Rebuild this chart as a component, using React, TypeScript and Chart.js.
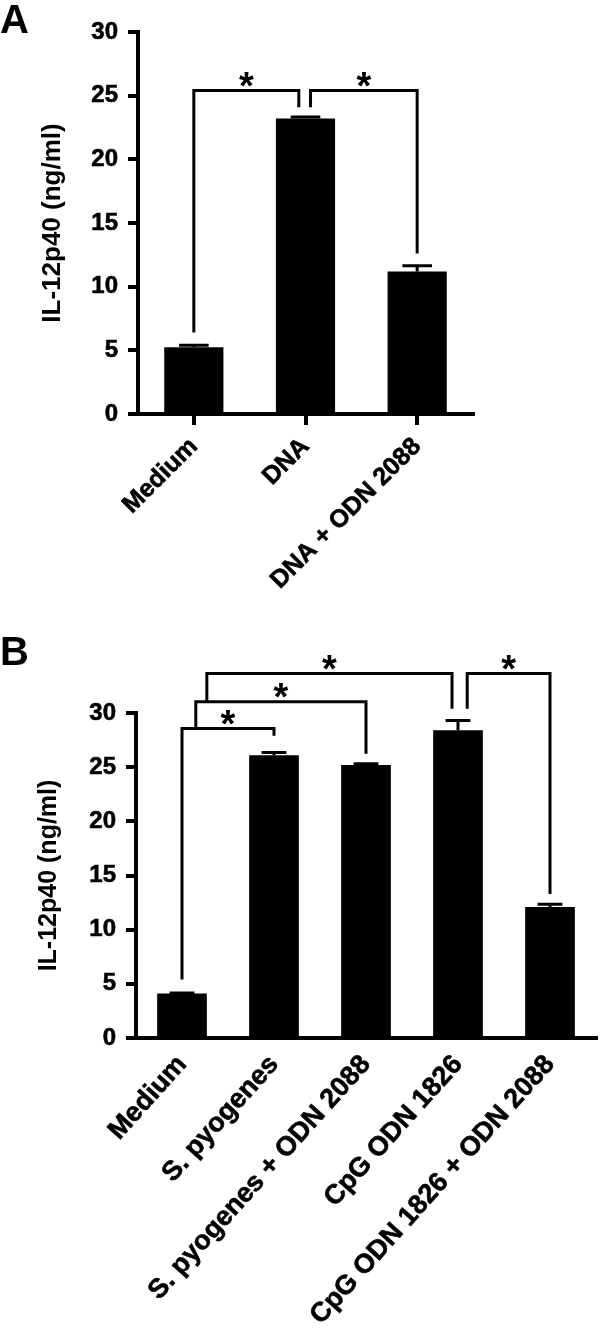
import React, { useEffect, useRef } from 'react';
import { Chart, registerables } from 'chart.js';

Chart.register(...registerables);

const FONT = '"Liberation Sans", Arial, Helvetica, sans-serif';

// ---------- data ----------
const yTickValues = [0, 5, 10, 15, 20, 25, 30];
const yAxisTitle = 'IL-12p40 (ng/ml)';

const categoriesA = ['Medium', 'DNA', 'DNA + ODN 2088'];
const meansA = [5.25, 23.2, 11.2];
const semA = [0.15, 0.12, 0.45];
// [fromCategory, toCategory, bracketLevel, fromLegEnd, toLegEnd]
const bracketsA = [
  [0, 0.94, 25.4, 6.4, 24.1],
  [1.045, 2, 25.4, 24.1, 12.6],
];

const categoriesB = [
  'Medium',
  'S. pyogenes',
  'S. pyogenes + ODN 2088',
  'CpG ODN 1826',
  'CpG ODN 1826 + ODN 2088',
];
const meansB = [4.1, 26.1, 25.2, 28.4, 12.1];
const semB = [0.05, 0.25, 0.12, 0.9, 0.25];
const bracketsB = [
  [0, 1, 28.56, 5.4, 27.9],
  [0.15, 2, 31.05, 28.56, 26.25],
  [0.27, 2.935, 33.64, 31.05, 30.4],
  [3.1, 4, 33.64, 30.4, 13.3],
];

type PanelProps = {
  labels: string[];
  values: number[];
  errors: number[];
  brackets: number[][];
  width: number;
  height: number;
  top: number;
  padTop: number;
  padRight: number;
  yAxisWidth: number;
  xAxisHeight: number;
  barPct: number;
  xTicks: boolean;
  xLabelPad: number;
  xLabelSize: number;
  xRotation: number;
  titleSize: number;
  titlePad: number;
};

function overlayPlugin(values: number[], errors: number[], brackets: number[][]) {
  return {
    id: 'overlay',
    afterDatasetsDraw(chart: any) {
      const ctx = chart.ctx as CanvasRenderingContext2D;
      const xs = chart.scales.x;
      const ys = chart.scales.y;
      const meta = chart.getDatasetMeta(0);
      ctx.save();
      ctx.strokeStyle = '#000';
      ctx.fillStyle = '#000';
      ctx.lineWidth = 3;
      ctx.lineCap = 'butt';
      ctx.lineJoin = 'miter';
      meta.data.forEach((bar: any, i: number) => {
        const yTop = ys.getPixelForValue(values[i]);
        const yErr = ys.getPixelForValue(values[i] + errors[i]);
        const half = bar.width / 4;
        ctx.beginPath();
        ctx.moveTo(bar.x, yTop);
        ctx.lineTo(bar.x, yErr);
        ctx.moveTo(bar.x - half, yErr);
        ctx.lineTo(bar.x + half, yErr);
        ctx.stroke();
      });
      brackets.forEach(([a, b, level, endA, endB]) => {
        const x1 = xs.getPixelForValue(a);
        const x2 = xs.getPixelForValue(b);
        const yl = ys.getPixelForValue(level);
        ctx.beginPath();
        ctx.moveTo(x1, ys.getPixelForValue(endA));
        ctx.lineTo(x1, yl);
        ctx.lineTo(x2, yl);
        ctx.lineTo(x2, ys.getPixelForValue(endB));
        ctx.stroke();
        ctx.font = `bold 38px ${FONT}`;
        ctx.textAlign = 'center';
        ctx.textBaseline = 'alphabetic';
        const m = ctx.measureText('*');
        const cy = yl - 11;
        const base = cy + (m.actualBoundingBoxAscent - m.actualBoundingBoxDescent) / 2;
        ctx.fillText('*', (x1 + x2) / 2, base);
      });
      ctx.restore();
    },
  };
}

function BarPanel(p: PanelProps) {
  const ref = useRef<HTMLCanvasElement>(null);
  useEffect(() => {
    if (!ref.current) return;
    const chart = new Chart(ref.current, {
      type: 'bar',
      data: {
        labels: p.labels,
        datasets: [
          {
            data: p.values,
            backgroundColor: '#000',
            borderWidth: 0,
            barPercentage: p.barPct,
            categoryPercentage: 1,
          },
        ],
      },
      options: {
        animation: false,
        responsive: false,
        maintainAspectRatio: false,
        layout: { padding: { left: 0, right: p.padRight, top: p.padTop, bottom: 0 } },
        plugins: {
          legend: { display: false },
          tooltip: { enabled: false },
          title: { display: false },
        },
        scales: {
          x: {
            type: 'category',
            offset: true,
            grid: {
              display: p.xTicks,
              offset: false,
              drawOnChartArea: false,
              drawTicks: p.xTicks,
              tickLength: 11,
              tickWidth: 4,
              tickColor: '#000',
              color: '#000',
              lineWidth: 4,
            },
            border: { display: true, color: '#000', width: 4 },
            ticks: {
              color: '#000',
              font: { family: FONT, size: p.xLabelSize, weight: 'bold' },
              textStrokeColor: '#000',
              textStrokeWidth: 0.6,
              maxRotation: p.xRotation,
              minRotation: p.xRotation,
              autoSkip: false,
              padding: p.xLabelPad,
            },
            afterFit: (s: any) => {
              s.height = p.xAxisHeight;
            },
          },
          y: {
            min: 0,
            max: 30,
            grid: {
              drawOnChartArea: false,
              drawTicks: true,
              tickLength: 10,
              tickWidth: 4,
              tickColor: '#000',
              color: '#000',
              lineWidth: 4,
            },
            border: { display: true, color: '#000', width: 4 },
            ticks: {
              color: '#000',
              font: { family: FONT, size: 24, weight: 'bold' },
              textStrokeColor: '#000',
              textStrokeWidth: 0.6,
              padding: 10,
            },
            afterBuildTicks: (s: any) => {
              s.ticks = yTickValues.map((v) => ({ value: v }));
            },
            title: {
              display: true,
              text: yAxisTitle,
              color: '#000',
              font: { family: FONT, size: p.titleSize, weight: 'bold', lineHeight: 1.2 },
              padding: { top: p.titlePad, bottom: 0 },
            },
            afterFit: (s: any) => {
              s.width = p.yAxisWidth;
            },
          },
        },
      },
      plugins: [overlayPlugin(p.values, p.errors, p.brackets)],
    } as any);
    return () => chart.destroy();
  }, []);
  return (
    <canvas
      ref={ref}
      width={p.width}
      height={p.height}
      style={{ position: 'absolute', left: 0, top: p.top, width: p.width, height: p.height }}
    />
  );
}

const letterStyle: React.CSSProperties = {
  position: 'absolute',
  left: 0,
  fontFamily: FONT,
  fontWeight: 'bold',
  fontSize: 40,
  lineHeight: 1,
  color: '#000',
};

export default function App() {
  return (
    <div
      style={{
        position: 'absolute',
        left: 0,
        top: 0,
        width: 600,
        height: 1332,
        background: '#fff',
        overflow: 'hidden',
      }}
    >
      <BarPanel
        labels={categoriesA}
        values={meansA}
        errors={semA}
        brackets={bracketsA}
        width={600}
        height={615}
        top={0}
        padTop={32}
        padRight={127}
        yAxisWidth={138}
        xAxisHeight={201}
        barPct={0.53}
        xTicks={true}
        xLabelPad={7}
        xLabelSize={25}
        xRotation={45}
        titleSize={26}
        titlePad={37}
      />
      <BarPanel
        labels={categoriesB}
        values={meansB}
        errors={semB}
        brackets={bracketsB}
        width={600}
        height={717}
        top={615}
        padTop={98}
        padRight={4}
        yAxisWidth={136}
        xAxisHeight={294}
        barPct={0.54}
        xTicks={false}
        xLabelPad={11}
        xLabelSize={27}
        xRotation={48}
        titleSize={25}
        titlePad={34}
      />
      <div style={{ ...letterStyle, top: -1 }}>A</div>
      <div style={{ ...letterStyle, top: 631 }}>B</div>
    </div>
  );
}
